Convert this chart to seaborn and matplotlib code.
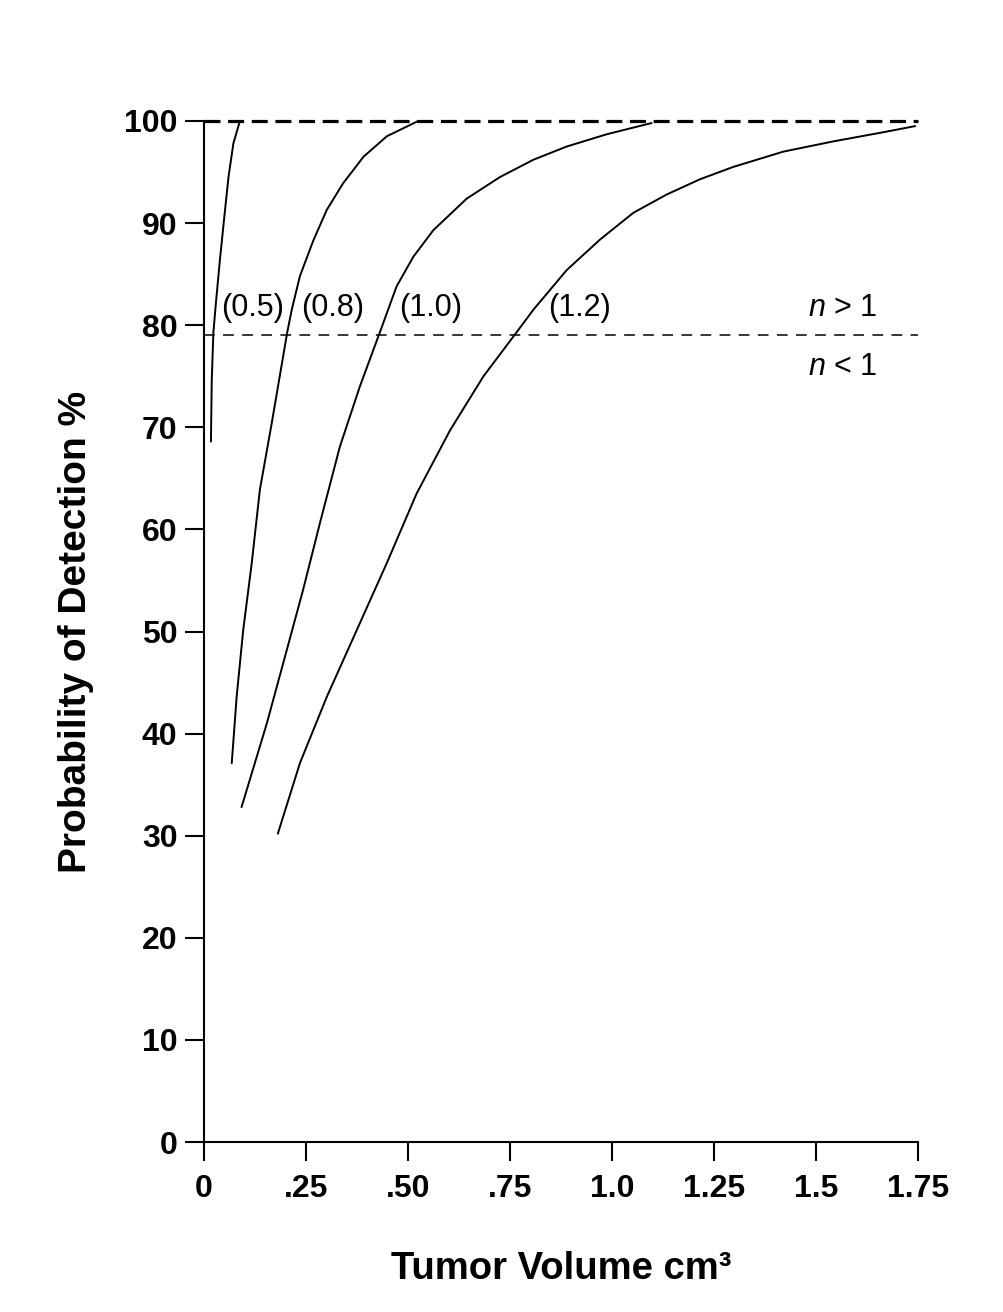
import matplotlib
matplotlib.use("Agg")
import matplotlib.pyplot as plt
import seaborn as sns

sns.set_theme(style="white")
plt.rcParams['font.family'] = ['Liberation Sans', 'DejaVu Sans']
for k in ["text.color", "axes.labelcolor", "xtick.color", "ytick.color", "axes.edgecolor"]:
    plt.rcParams[k] = "black"
plt.rcParams['mathtext.fontset'] = 'custom'
plt.rcParams['mathtext.rm'] = 'Liberation Sans'
plt.rcParams['mathtext.it'] = 'Liberation Sans:italic'

# --- data ---
x_05 = [0.017, 0.019, 0.023, 0.029, 0.039, 0.049, 0.060, 0.072, 0.088]
y_05 = [68.6, 74.6, 79.3, 82.1, 86.4, 90.3, 94.5, 97.8, 100.0]

x_08 = [0.068, 0.080, 0.096, 0.117, 0.137, 0.166, 0.204, 0.215, 0.235, 0.268, 0.301, 0.341, 0.391, 0.448, 0.525]
y_08 = [37.1, 43.6, 50.1, 56.7, 63.9, 70.4, 79.3, 81.5, 84.8, 88.3, 91.3, 93.9, 96.5, 98.5, 100.0]

x_10 = [0.092, 0.154, 0.203, 0.243, 0.284, 0.333, 0.382, 0.431, 0.472, 0.513, 0.562, 0.644, 0.725, 0.807, 0.889, 0.987, 1.097]
y_10 = [32.8, 41.0, 48.2, 54.1, 60.6, 68.1, 74.0, 79.3, 83.8, 86.7, 89.3, 92.4, 94.5, 96.2, 97.5, 98.7, 99.8]

x_12 = [0.181, 0.235, 0.301, 0.374, 0.448, 0.521, 0.603, 0.685, 0.766, 0.807, 0.889, 0.971, 1.052, 1.134, 1.216, 1.297, 1.420, 1.542, 1.665, 1.743]
y_12 = [30.2, 37.1, 43.6, 50.1, 56.7, 63.5, 69.7, 75.0, 79.3, 81.5, 85.4, 88.4, 91.0, 92.8, 94.3, 95.5, 97.0, 98.0, 98.9, 99.5]

curve_labels = ["(0.5)", "(0.8)", "(1.0)", "(1.2)"]
label_x = [0.118, 0.316, 0.556, 0.920]
label_y = 81.7

threshold = 79.0
top_level = 100.0

x_ticks = [0, 0.25, 0.50, 0.75, 1.0, 1.25, 1.5, 1.75]
x_ticklabels = ["0", ".25", ".50", ".75", "1.0", "1.25", "1.5", "1.75"]
y_ticks = list(range(0, 101, 10))
y_ticklabels = [str(v) for v in y_ticks]

# --- figure ---
fig = plt.figure(figsize=(10.04, 13.12), dpi=100)
ax = fig.add_axes([204/1004, 1 - 1142/1312, (918-204)/1004, (1142-121)/1312])

for xs, ys in [(x_05, y_05), (x_08, y_08), (x_10, y_10), (x_12, y_12)]:
    sns.lineplot(x=xs, y=ys, ax=ax, color="black", linewidth=1.4,
                 estimator=None, sort=False, clip_on=False)

ax.axhline(top_level, xmin=0, xmax=1, color="black", linewidth=2.3,
           linestyle=(0, (5, 2.4)), clip_on=False)
ax.axhline(threshold, xmin=0, xmax=1, color="black", linewidth=1.1,
           linestyle=(0, (7, 5.5)))

for lab, lx in zip(curve_labels, label_x):
    ax.text(lx, label_y, lab, fontsize=22, ha="center", va="center")
ax.text(1.564, label_y, r"$\mathit{n}$ > 1", fontsize=22, ha="center", va="center")
ax.text(1.564, 75.9, r"$\mathit{n}$ < 1", fontsize=22, ha="center", va="center")

ax.set_xlim(0, 1.75)
ax.set_ylim(0, 100)
ax.set_xticks(x_ticks)
ax.set_xticklabels(x_ticklabels)
ax.set_yticks(y_ticks)
ax.set_yticklabels(y_ticklabels)

for side in ["top", "right"]:
    ax.spines[side].set_visible(False)
for side in ["left", "bottom"]:
    ax.spines[side].set_linewidth(1.5)
    ax.spines[side].set_color("black")

ax.tick_params(axis="both", which="major", bottom=True, left=True, direction="out",
               length=14, width=1.5, color="black", labelcolor="black")
ax.tick_params(axis="y", pad=5)
ax.tick_params(axis="x", pad=9)
for t in ax.get_xticklabels() + ax.get_yticklabels():
    t.set_family(['Liberation Sans', 'DejaVu Sans'])
    t.set_fontweight("bold")
    t.set_fontsize(23)

ax.set_xlabel("Tumor Volume cm\u00b3", fontsize=27.5, fontweight="bold", labelpad=34)
ax.set_ylabel("Probability of Detection %", fontsize=28, fontweight="bold", labelpad=22)

fig.savefig("out.png", dpi=100, facecolor="white")
